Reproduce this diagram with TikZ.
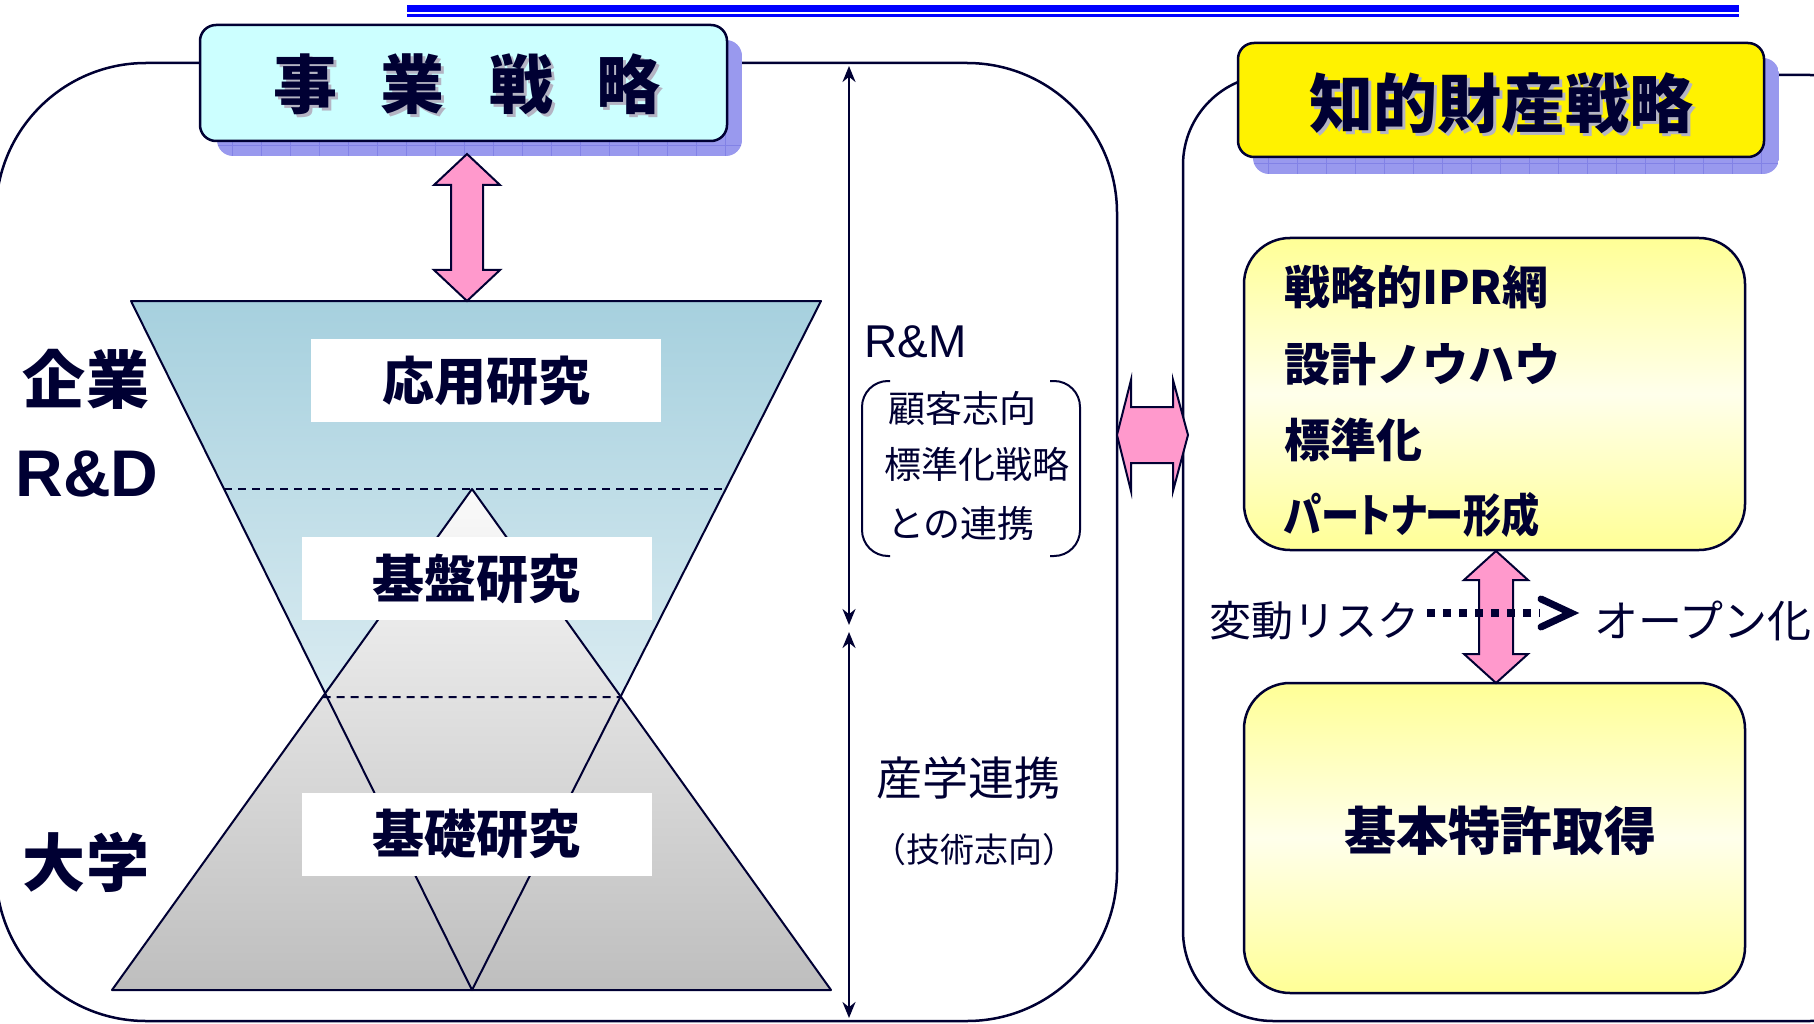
\documentclass[tikz,border=0pt]{standalone}
\usepackage{fontspec}
\newfontfamily\jp{Noto Sans CJK JP}
\newfontfamily\jpp[RawFeature=+palt]{Noto Sans CJK JP}
\newfontfamily\arialf{Liberation Sans}
\usetikzlibrary{arrows.meta}
\newcommand\fsz[1]{\fontsize{#1}{#1}\selectfont}
\definecolor{ink}{RGB}{0,0,51}
\definecolor{cyanbox}{RGB}{204,255,255}
\definecolor{shadowc}{RGB}{153,153,238}
\definecolor{gridc}{RGB}{130,130,230}
\definecolor{pinkf}{RGB}{255,153,204}
\definecolor{blueA}{RGB}{166,208,222}
\definecolor{grayT}{RGB}{250,250,250}
\definecolor{grayB}{RGB}{190,190,190}
\definecolor{yelA}{RGB}{255,255,150}
\definecolor{yelM}{RGB}{255,255,235}
\definecolor{tshadow}{RGB}{180,180,195}
\tikzset{
  txt/.style={inner sep=0pt, text=ink},
  lab/.style={fill=white, inner sep=0pt, minimum width=350pt, minimum height=83pt, text=ink, font=\jp\bfseries\fsz{52}},
  myframe/.style={draw=ink, line width=2.5pt},
  pinkarr/.style={fill=pinkf, draw=ink, line width=2pt, line join=miter},
  navyarr/.style={draw=ink, line width=2.5pt, {Stealth[length=16pt,width=13pt]}-{Stealth[length=16pt,width=13pt]}},
  funnelline/.style={draw=ink, line width=2pt},
  dashln/.style={draw=ink, line width=2pt, dash pattern=on 8pt off 6pt},
  yelbox/.style={draw=ink, line width=2.5pt, rounded corners=46pt, top color=yelA, bottom color=yelA, middle color=yelM, minimum width=501pt, inner sep=0pt},
}
\begin{document}
\begin{tikzpicture}[x=1pt,y=-1pt,line join=round]
\clip (0,0) rectangle (1814,1024);
\fill[white] (0,0) rectangle (1814,1024);

% top blue rule
\draw[blue, line width=7.6pt] (407,8.4) -- (1739,8.4);
\draw[blue, line width=3pt] (407,16) -- (1739,16);

% big frames
\draw[myframe, rounded corners=150pt] (-4,63) rectangle (1117,1021);
\draw[myframe, rounded corners=90pt] (1183,75) rectangle (1900,1021);

% header 1 shadow
\begin{scope}
\clip[rounded corners=16pt] (217,40) rectangle (742,156);
\fill[shadowc] (217,40) rectangle (742,156);
\foreach \gx in {232,261,...,742} \draw[gridc, line width=1pt] (\gx,40) -- (\gx,156);
\draw[gridc, line width=1pt] (217,146) -- (742,146);
\end{scope}
\node[draw=ink, line width=2.5pt, fill=cyanbox, rounded corners=16pt, minimum width=527pt, minimum height=116pt, inner sep=0pt] (bizbox) at (463.5,83) {};
\node[txt, text=tshadow, font=\jp\bfseries\fsz{64}] at (470,87) {事\hspace{44pt}業\hspace{44pt}戦\hspace{44pt}略};
\node[txt, font=\jp\bfseries\fsz{64}] (biz) at (467,84) {事\hspace{44pt}業\hspace{44pt}戦\hspace{44pt}略};

% header 2 shadow
\begin{scope}
\clip[rounded corners=16pt] (1253,58) rectangle (1779,174);
\fill[shadowc] (1253,58) rectangle (1779,174);
\foreach \gx in {1268,1297,...,1779} \draw[gridc, line width=1pt] (\gx,58) -- (\gx,174);
\draw[gridc, line width=1pt] (1253,164) -- (1779,164);
\end{scope}
\node[draw=ink, line width=2.5pt, fill=yellow, rounded corners=16pt, minimum width=526pt, minimum height=114pt, inner sep=0pt] (ipbox) at (1501,100) {};
\node[txt, text=tshadow, font=\jp\bfseries\fsz{64}] at (1504,106) {知的財産戦略};
\node[txt, font=\jp\bfseries\fsz{64}] (ip) at (1501,103) {知的財産戦略};

% funnel
\coordinate (BTL) at (131,301);
\coordinate (BTR) at (821,301);
\coordinate (BAp) at (472,990);
\coordinate (GAp) at (472,489);
\coordinate (GBL) at (112,990);
\coordinate (GBR) at (831,990);
\coordinate (H1a) at (0,489);
\coordinate (H1b) at (1000,489);
\coordinate (H2a) at (0,697);
\coordinate (H2b) at (1000,697);
\fill[top color=blueA, bottom color=white] (BTL) -- (BTR) -- (BAp) -- cycle;
\fill[top color=grayT, bottom color=grayB] (GAp) -- (GBR) -- (GBL) -- cycle;
\draw[funnelline] (BTL) -- (BTR) -- (BAp) -- cycle;
\draw[funnelline] (GAp) -- (GBR) -- (GBL) -- cycle;
\draw[dashln] (intersection of BTL--BAp and H1a--H1b) -- (intersection of BTR--BAp and H1a--H1b);
\draw[dashln] (intersection of GAp--GBL and H2a--H2b) -- (intersection of GAp--GBR and H2a--H2b);

\node[lab] (oyo) at (486,380.5) {応用研究};
\node[lab] (kiban) at (476.5,578.5) {基盤研究};
\node[lab] (kiso) at (476.5,834) {基礎研究};

% pink arrow top
\filldraw[pinkarr] (467,154) -- (500,185) -- (483,185) -- (483,270) -- (500,270) -- (467,301) -- (434,270) -- (451,270) -- (451,185) -- (434,185) -- cycle;

% left labels
\node[txt, font=\jp\bfseries\fsz{63}] (kigyo) at (86,379) {企業};
\node[txt, font=\arialf\bfseries\fsz{66}] (rd) at (87,474) {R\&D};
\node[txt, font=\jp\bfseries\fsz{63}] (daigaku) at (86,862) {大学};

% navy vertical arrows
\coordinate (RMtop) at (849,66);
\coordinate (RMbot) at (849,625);
\coordinate (SGtop) at (849,632);
\coordinate (SGbot) at (849,1018);
\draw[navyarr] (RMtop) -- (RMbot);
\draw[navyarr] (SGtop) -- (SGbot);

\node[txt, anchor=west, font=\arialf\fsz{46}] (rm) at (864,342) {R\&M};
\draw[ink, line width=2pt, rounded corners=26pt] (890,381) -- (862,381) -- (862,556) -- (890,556);
\draw[ink, line width=2pt, rounded corners=26pt] (1050,381) -- (1080,381) -- (1080,556) -- (1050,556);
\node[txt, anchor=west, font=\jp\fsz{37}] (kokyaku) at (888,408) {顧客志向};
\node[txt, anchor=west, font=\jp\fsz{37}] (hyojun) at (884,464) {標準化戦略};
\node[txt, anchor=west, font=\jp\fsz{37}] (renkei) at (887,523) {との連携};

\node[txt, anchor=west, font=\jp\fsz{46}] (sangaku) at (876,778) {産学連携};
\node[txt, anchor=west, font=\jp\fsz{34}] (gijutsu) at (872,850) {（技術志向）};

% horizontal pink arrow
\filldraw[pinkarr] (1117,435) -- (1131,380) -- (1131,407) -- (1173,407) -- (1173,380) -- (1188,435) -- (1173,491) -- (1173,463) -- (1131,463) -- (1131,491) -- cycle;

% right boxes
\node[yelbox, minimum height=312pt] (upper) at (1494.5,394) {};
\node[txt, anchor=west, font=\jpp\bfseries\fsz{46}] (ipr) at (1284,287) {戦略的IPR網};
\node[txt, anchor=west, font=\jp\bfseries\fsz{46}] (knowhow) at (1284,364) {設計ノウハウ};
\node[txt, anchor=west, font=\jp\bfseries\fsz{46}] (std) at (1284,440) {標準化};
\node[txt, anchor=west, font=\jpp\bfseries\fsz{46}] (partner) at (1284,515) {\scalebox{0.83}[1]{パートナー形成}};

\node[yelbox, minimum height=310pt] (lower) at (1494.5,838) {};
\node[txt, font=\jp\bfseries\fsz{52}] (kihon) at (1500,831) {基本特許取得};

% right pink arrow
\filldraw[pinkarr] (1496,551) -- (1528,580) -- (1513,580) -- (1513,654) -- (1528,654) -- (1496,683) -- (1464,654) -- (1479,654) -- (1479,580) -- (1464,580) -- cycle;

% risk -> open
\node[txt, anchor=west, font=\jp\fsz{42}] (hendo) at (1209,621) {変動リスク};
\node[txt, anchor=west, font=\jp\fsz{44}] (open) at (1594,621) {オープン化};
\coordinate (dotS) at (1427,613);
\coordinate (dotE) at (1571,613);
\draw[ink, line width=8pt, dash pattern=on 8pt off 8pt] (dotS) -- (1540,613);
\draw[ink, line width=7pt, line cap=round, line join=miter] (1541,599) -- (dotE) -- (1541,627);
\end{tikzpicture}
\end{document}
